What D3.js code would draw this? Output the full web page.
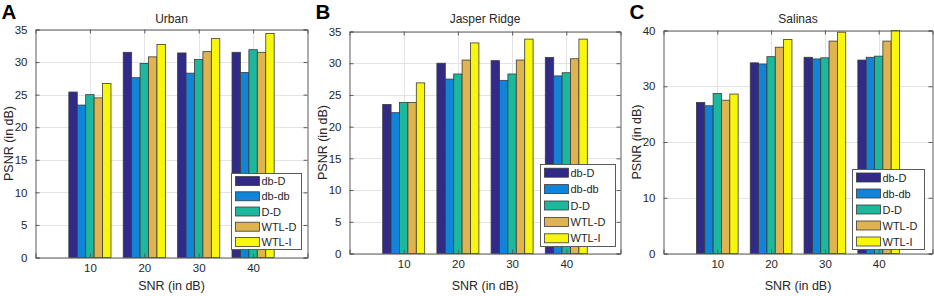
<!DOCTYPE html>
<html>
<head>
<meta charset="utf-8">
<script src="https://cdn.jsdelivr.net/npm/d3@7"></script>
<style>
  body { margin: 0; background: #fff; }
  svg { display: block; font-family: "Liberation Sans", Arial, sans-serif; }
</style>
</head>
<body>
<div class="chart"></div>
<script>
// PSNR vs SNR, three datasets
const snrLevels = [10, 20, 30, 40];
const methods = ["db-D", "db-db", "D-D", "WTL-D", "WTL-I"];
const colors = ["#312a86", "#1184da", "#1cb89e", "#dfb34f", "#f8f60c"];

// rows = method, columns = SNR level
const urbanPsnr = [
  [25.4, 31.5, 31.4, 31.5],
  [23.4, 27.6, 28.3, 28.4],
  [25.0, 29.8, 30.4, 31.9],
  [24.5, 30.8, 31.6, 31.5],
  [26.7, 32.7, 33.6, 34.4]
];
const jasperPsnr = [
  [23.5, 30.0, 30.4, 30.9],
  [22.2, 27.5, 27.3, 28.0],
  [23.8, 28.3, 28.3, 28.5],
  [23.8, 30.5, 30.5, 30.7],
  [26.9, 33.2, 33.8, 33.8]
];
const salinasPsnr = [
  [27.1, 34.2, 35.2, 34.7],
  [26.5, 34.0, 34.9, 35.2],
  [28.7, 35.3, 35.1, 35.4],
  [27.5, 37.0, 38.1, 38.1],
  [28.6, 38.4, 39.7, 40.0]
];

const yTicksAB = [0, 5, 10, 15, 20, 25, 30, 35];
const yTicksC = [0, 10, 20, 30, 40];

const panels = [
  { letter: "A", title: "Urban", data: urbanPsnr, yMax: 35, yTicks: yTicksAB,
    box: { left: 35.5, right: 307.5, top: 29.5, bottom: 257.5 },
    legend: { x: 231.5, y: 173.5, w: 70, h: 76 } },
  { letter: "B", title: "Jasper Ridge", data: jasperPsnr, yMax: 35, yTicks: yTicksAB,
    box: { left: 349.5, right: 620.5, top: 31.5, bottom: 253.5 },
    legend: { x: 540.5, y: 164.5, w: 75, h: 82 } },
  { letter: "C", title: "Salinas", data: salinasPsnr, yMax: 40, yTicks: yTicksC,
    box: { left: 663.5, right: 932.5, top: 30.5, bottom: 253.5 },
    legend: { x: 852.5, y: 169.5, w: 72, h: 80 } }
];

const svg = d3.select(".chart")
  .append("svg")
  .attr("width", 934)
  .attr("height", 296);

panels.forEach(p => drawPanel(p));

function drawPanel(p) {
  const b = p.box;
  const g = svg.append("g");

  const x = d3.scaleLinear().domain([0, 50]).range([b.left, b.right]);
  const y = d3.scaleLinear().domain([0, p.yMax]).range([b.bottom, b.top]);

  // group width in data units, split between methods
  const groupW = 7.75;
  const groupPx = x(groupW) - x(0);
  const x1 = d3.scaleBand()
    .domain(methods)
    .range([-groupPx / 2, groupPx / 2])
    .paddingInner(0);

  // grid
  g.append("g").selectAll("line")
    .data(snrLevels)
    .join("line")
    .attr("x1", d => Math.round(x(d)) + 0.5)
    .attr("x2", d => Math.round(x(d)) + 0.5)
    .attr("y1", b.top).attr("y2", b.bottom)
    .attr("stroke", "#e3e3e3");
  g.append("g").selectAll("line")
    .data(p.yTicks)
    .join("line")
    .attr("y1", d => Math.round(y(d)) + 0.5)
    .attr("y2", d => Math.round(y(d)) + 0.5)
    .attr("x1", b.left).attr("x2", b.right)
    .attr("stroke", "#e3e3e3");

  // bars
  const cells = [];
  p.data.forEach((row, mi) => row.forEach((v, si) => {
    cells.push({ method: methods[mi], mi: mi, snr: snrLevels[si], value: v });
  }));

  g.append("g")
    .selectAll("rect")
    .data(cells)
    .join("rect")
    .attr("x", d => x(d.snr) + x1(d.method))
    .attr("width", x1.bandwidth())
    .attr("y", d => y(Math.min(d.value, p.yMax)))
    .attr("height", d => y(0) - y(Math.min(d.value, p.yMax)))
    .attr("fill", d => colors[d.mi])
    .attr("stroke", "#3a3a3a")
    .attr("stroke-width", 0.8);

  // axes, MATLAB style: inward ticks, full box
  const xAxis = d3.axisBottom(x).tickValues(snrLevels).tickSize(-4).tickPadding(6);
  const yAxis = d3.axisLeft(y).tickValues(p.yTicks).tickSize(-4).tickPadding(8);

  g.append("g")
    .attr("transform", `translate(0,${b.bottom})`)
    .call(xAxis);
  g.append("g")
    .attr("transform", `translate(${b.left},0)`)
    .call(yAxis);
  g.append("g")
    .attr("transform", `translate(0,${b.top})`)
    .call(d3.axisTop(x).tickValues(snrLevels).tickSize(-4).tickFormat(""));
  g.append("g")
    .attr("transform", `translate(${b.right},0)`)
    .call(d3.axisRight(y).tickValues(p.yTicks).tickSize(-4).tickFormat(""));

  g.selectAll(".domain").attr("stroke", "#5a5a5a");
  g.selectAll(".tick line").attr("stroke", "#5a5a5a");
  g.selectAll(".tick text")
    .attr("fill", "#262626")
    .style("font-size", "11.5px")
    .style("font-family", "Liberation Sans, Arial, sans-serif");

  // legend
  const L = p.legend;
  const lg = g.append("g");
  lg.append("rect")
    .attr("x", L.x).attr("y", L.y)
    .attr("width", L.w).attr("height", L.h)
    .attr("fill", "#fff")
    .attr("stroke", "#5a5a5a");
  const step = L.h / methods.length;
  methods.forEach((m, i) => {
    const cy = L.y + step * (i + 0.5);
    lg.append("rect")
      .attr("x", L.x + 4).attr("y", cy - 4.5)
      .attr("width", 24).attr("height", 9)
      .attr("fill", colors[i])
      .attr("stroke", "#3a3a3a")
      .attr("stroke-width", 0.8);
    lg.append("text")
      .attr("x", L.x + 30).attr("y", cy + 4)
      .style("font-size", "11px")
      .attr("fill", "#262626")
      .text(m);
  });

  // titles and labels
  const cx = (b.left + b.right) / 2;
  g.append("text")
    .attr("x", cx).attr("y", 23)
    .attr("text-anchor", "middle")
    .style("font-size", "12px")
    .attr("fill", "#262626")
    .text(p.title);
  g.append("text")
    .attr("x", cx).attr("y", 290)
    .attr("text-anchor", "middle")
    .style("font-size", "12.5px")
    .attr("fill", "#262626")
    .text("SNR (in dB)");
  g.append("text")
    .attr("transform", `translate(${b.left - 23},${(b.top + b.bottom) / 2}) rotate(-90)`)
    .attr("text-anchor", "middle")
    .style("font-size", "12.5px")
    .attr("fill", "#262626")
    .text("PSNR (in dB)");

  // panel letter
  g.append("text")
    .attr("x", b.left - 34).attr("y", 18.5)
    .style("font-size", "20.5px")
    .style("font-weight", "bold")
    .attr("fill", "#000")
    .text(p.letter);
}
</script>
</body>
</html>
